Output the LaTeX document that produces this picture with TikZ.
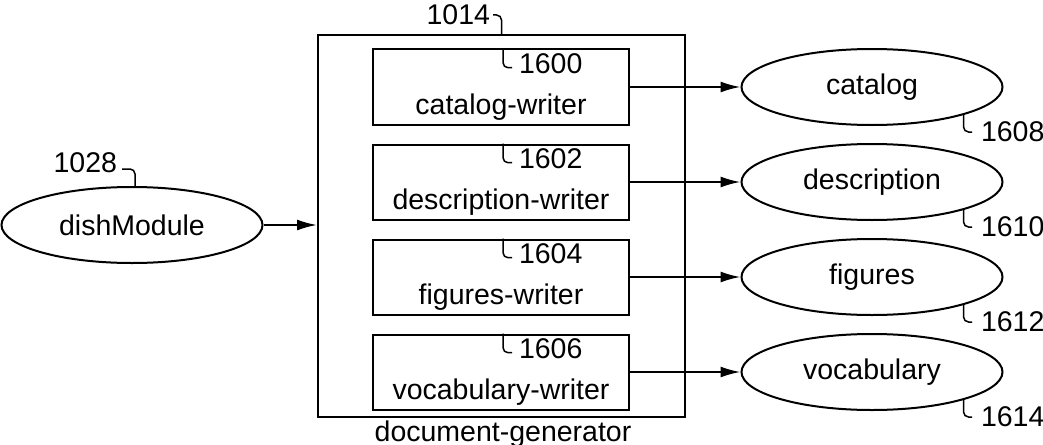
\documentclass[tikz,border=0pt]{standalone}
\usepackage{fontspec}
\setmainfont{Liberation Sans}
\usetikzlibrary{arrows.meta,shapes.geometric}
\begin{document}
\begin{tikzpicture}[x=1pt,y=-1pt,
  line width=2pt,
  every node/.style={font=\fontsize{28.5}{31}\selectfont},
  oval/.style={draw,ellipse,minimum width=261pt,minimum height=76pt,inner sep=0pt},
  writer/.style={draw,rectangle,minimum width=256pt,minimum height=75pt,inner sep=0pt},
  genbox/.style={draw,rectangle,minimum width=367pt,minimum height=382pt,inner sep=0pt},
  lbl/.style={inner sep=0pt},
  hook/.style={line width=1.5pt,rounded corners=5pt},
  arr/.style={-{Latex[length=20pt,width=11pt]}}]
\useasboundingbox (0,0) rectangle (1043,444);

% left module
\node[oval] (dish) at (132,225) {dishModule};
\node[lbl,anchor=east] (l28) at (118,163) {1028};
\draw[hook] ([xshift=3pt]dish.north) |- ([xshift=4pt,yshift=-6pt]l28.east);

% generator
\node[genbox] (gen) at (501.5,226) {};
\node[lbl,anchor=east] (l14) at (491,15) {1014};
\draw[hook] ([xshift=2pt]l14.east) -| (gen.north);
\node[lbl,anchor=base] (gtxt) at (503,441) {document-generator};

\draw[arr] (dish.east) -- (gen.west |- dish.east);

% writers
\foreach \i/\c/\name/\num in {1/87/catalog-writer/1600,2/182/description-writer/1602,3/277/figures-writer/1604,4/372/vocabulary-writer/1606}{
  \node[writer] (w\i) at (501,\c) {};
  \node[lbl,anchor=base] (t\i) at (501,\c+27.5) {\name};
  \node[lbl,anchor=base west] (n\i) at (518,\c-13.5) {\num};
  \draw[hook] ([xshift=2pt]w\i.north) |- ([xshift=-6pt,yshift=-4pt]n\i.west);
}

% outputs
\foreach \i/\c/\name/\num in {1/87/catalog/1608,2/182/description/1610,3/277/figures/1612,4/372/vocabulary/1614}{
  \node[oval] (e\i) at (872,\c) {\name};
  \node[lbl,anchor=west] (m\i) at (980,\c+45) {\num};
  \draw[hook] (e\i.-17) |- ([xshift=-8pt]m\i.west);
  \draw[arr] (w\i.east) -- (e\i.west);
}
\end{tikzpicture}
\end{document}
